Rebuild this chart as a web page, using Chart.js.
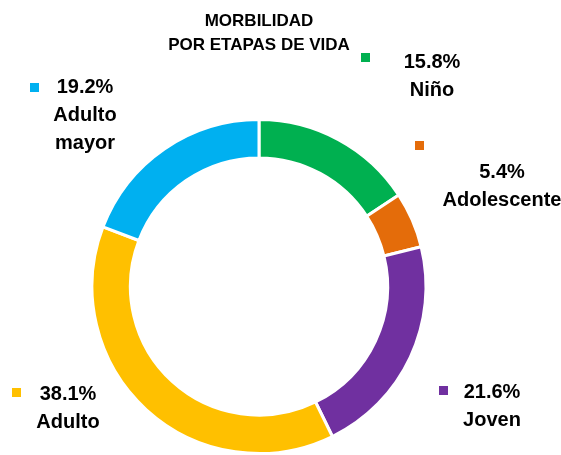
<!DOCTYPE html>
<html>
<head>
<meta charset="utf-8">
<script src="https://cdn.jsdelivr.net/npm/chart.js@4.4.1/dist/chart.umd.min.js"></script>
<style>
  html, body { margin: 0; padding: 0; background: #fff; }
  #wrap { width: 561px; height: 455px; }
</style>
</head>
<body>
<div id="wrap"><canvas id="myChart" width="561" height="455"></canvas></div>
<script>
// ---------------- datos ----------------
const etapas = ['Niño', 'Adolescente', 'Joven', 'Adulto', 'Adulto mayor']
const porcentajes = [15.8, 5.4, 21.6, 38.1, 19.2]
const colores = ['#00B050', '#E46C0A', '#7030A0', '#FFC000', '#00B0F0']
const titulo = ['MORBILIDAD', 'POR ETAPAS DE VIDA']

// posicion de las etiquetas (centro del texto, cuadrito)
const etiquetas = [
    { tx: 432, ty: 62, sx: 361, sy: 53 },
    { tx: 502, ty: 172, sx: 415, sy: 141 },
    { tx: 492, ty: 392, sx: 439, sy: 386 },
    { tx: 68, ty: 394, sx: 12, sy: 388 },
    { tx: 85, ty: 87, sx: 30, sy: 83 }
]

const fuente = 'bold 20px "Liberation Sans", Arial, sans-serif'

// plugin para el titulo y las etiquetas
const textosPlugin = {
    id: 'textos',
    afterDraw(chart) {
        const ctx = chart.ctx
        ctx.save()
        ctx.fillStyle = '#000'
        ctx.textAlign = 'center'
        ctx.textBaseline = 'middle'
        ctx.font = 'bold 17px "Liberation Sans", Arial, sans-serif'
        ctx.fillText(titulo[0], 259, 21)
        ctx.fillText(titulo[1], 259, 45)

        ctx.font = fuente
        etiquetas.forEach((e, i) => {
            ctx.fillStyle = colores[i]
            ctx.fillRect(e.sx, e.sy, 9, 9)
            ctx.fillStyle = '#000'
            ctx.fillText(porcentajes[i].toFixed(1) + '%', e.tx, e.ty)
            const palabras = etapas[i] === 'Adulto mayor' ? ['Adulto', 'mayor'] : [etapas[i]]
            palabras.forEach((p, j) => {
                ctx.fillText(p, e.tx, e.ty + 28 * (j + 1))
            })
        })
        ctx.restore()
    }
}

const ctx = document.getElementById('myChart').getContext('2d')
const myChart = new Chart(ctx, {
    type: 'doughnut',
    data: {
        labels: etapas,
        datasets: [{
            data: porcentajes,
            backgroundColor: colores,
            borderColor: '#fff',
            borderWidth: 3
        }]
    },
    options: {
        responsive: false,
        animation: false,
        cutout: '77%',
        layout: {
            padding: { left: 88, right: 131, top: 118, bottom: -4 }
        },
        plugins: {
            legend: { display: false },
            tooltip: { enabled: false }
        }
    },
    plugins: [textosPlugin]
});
</script>
</body>
</html>
